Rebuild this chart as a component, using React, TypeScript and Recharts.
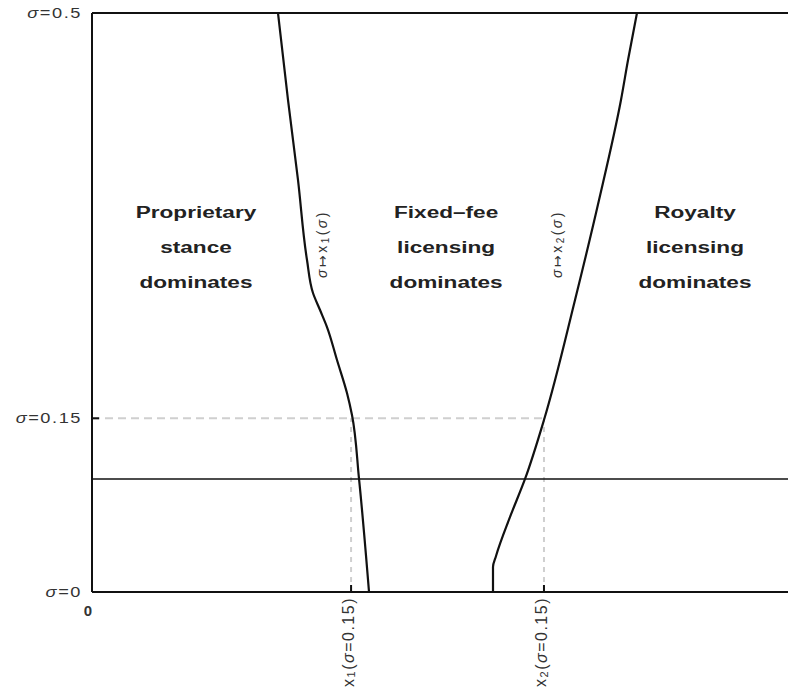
import React from "react";
import { ComposedChart, Line, XAxis, YAxis, ReferenceLine, ReferenceDot } from "recharts";

// threshold curve sigma -> x1(sigma)  (x position, sigma), sigma descending
const curveX1 = [
  { x: 0.2642, s: 0.5 },
  { x: 0.2784, s: 0.4249 },
  { x: 0.2926, s: 0.3558 },
  { x: 0.3054, s: 0.2867 },
  { x: 0.3139, s: 0.2582 },
  { x: 0.3239, s: 0.2435 },
  { x: 0.3338, s: 0.2288 },
  { x: 0.348, s: 0.2003 },
  { x: 0.3622, s: 0.1718 },
  { x: 0.3693, s: 0.1528 },
  { x: 0.3793, s: 0.0976 },
  { x: 0.3935, s: 0 },
];

// threshold curve sigma -> x2(sigma), sigma descending
const curveX2 = [
  { x: 0.7741, s: 0.5 },
  { x: 0.7614, s: 0.4594 },
  { x: 0.7514, s: 0.4249 },
  { x: 0.7202, s: 0.3385 },
  { x: 0.6861, s: 0.2522 },
  { x: 0.642, s: 0.1485 },
  { x: 0.6151, s: 0.0976 },
  { x: 0.5938, s: 0.0648 },
  { x: 0.5739, s: 0.0311 },
  { x: 0.5696, s: 0.0216 },
  { x: 0.5696, s: 0 },
];

const X1_AT = 0.368;
const X2_AT = 0.642;
const SIGMA_MARK = 0.15;
const SIGMA_LINE = 0.0976;
const xTicks = [0, X1_AT, X2_AT];
const yTicks = [0, 0.15, 0.5];
const yTickLabels = ["=0", "=0.15", "=0.5"];

const regionLabels = [
  { x: 0.1477, s: 0.323, lines: ["Proprietary", "stance", "dominates"] },
  { x: 0.503, s: 0.323, lines: ["Fixed–fee", "licensing", "dominates"] },
  { x: 0.8565, s: 0.323, lines: ["Royalty", "licensing", "dominates"] },
];

const curveLabels = [
  { x: 0.3267, s: 0.3005, sub: "1" },
  { x: 0.6605, s: 0.3005, sub: "2" },
];

const FONT = "'Liberation Sans', Arial, 'DejaVu Sans', sans-serif";
const INK = "#111";

const YTick = (props: any) => {
  const { x, y, payload } = props;
  const label = yTickLabels[yTicks.indexOf(payload.value)] ?? "";
  return (
    <g>
      <line x1={x} x2={x + 7} y1={y} y2={y} stroke={INK} strokeWidth={2} />
      <g transform={`translate(${x - 10},${y})`}>
        <text
          transform="scale(1.3,1)"
          textAnchor="end"
          dominantBaseline="central"
          fontFamily={FONT}
          fontSize={14}
          letterSpacing={1.2}
          fill="#333"
        >
          <tspan fontStyle="italic">σ</tspan>
          {label}
        </text>
      </g>
    </g>
  );
};

const XTick = (props: any) => {
  const { x, y, payload } = props;
  const v = payload.value;
  if (v === 0) {
    return (
      <text
        x={x - 4}
        y={y + 18}
        textAnchor="middle"
        dominantBaseline="central"
        fontFamily={FONT}
        fontWeight="bold"
        fontSize={15}
        fill="#333"
      >
        0
      </text>
    );
  }
  const sub = v === X1_AT ? "1" : "2";
  return (
    <g>
      <line x1={x} x2={x} y1={y} y2={y - 7} stroke={INK} strokeWidth={2} />
      <text
        transform={`translate(${x - 3},${y + 5}) rotate(-90)`}
        textAnchor="end"
        dominantBaseline="central"
        fontFamily={FONT}
        fontSize={16}
        letterSpacing={1.5}
        fill="#333"
      >
        x
        <tspan dy={3} fontSize={11}>
          {sub}
        </tspan>
        <tspan dy={-3}>(</tspan>
        <tspan fontStyle="italic">σ</tspan>
        <tspan>=0.15)</tspan>
      </text>
    </g>
  );
};

const RegionText = ({ cx, cy, lines }: any) => (
  <g>
    {lines.map((t: string, i: number) => (
      <g key={i} transform={`translate(${cx},${cy + i * 35})`}>
        <text
          transform="scale(1.33,1)"
          textAnchor="middle"
          fontFamily={FONT}
          fontWeight="bold"
          fontSize={17}
          fill="#222"
        >
          {t}
        </text>
      </g>
    ))}
  </g>
);

const CurveText = ({ cx, cy, sub }: any) => (
  <text
    transform={`translate(${cx},${cy}) rotate(-90)`}
    textAnchor="middle"
    dominantBaseline="central"
    fontFamily={FONT}
    fontSize={14}
    letterSpacing={2.5}
    fill="#333"
  >
    <tspan fontStyle="italic">σ</tspan>
    <tspan>↦x</tspan>
    <tspan dy={3} fontSize={10}>
      {sub}
    </tspan>
    <tspan dy={-3}>(</tspan>
    <tspan fontStyle="italic">σ</tspan>
    <tspan>)</tspan>
  </text>
);

export default function App() {
  return (
    <div style={{ width: 788, height: 693, marginTop: -8, background: "#fff" }}>
      <ComposedChart width={788} height={693} margin={{ top: 13, right: 0, bottom: 6, left: 0 }}>
        <XAxis
          type="number"
          dataKey="x"
          domain={[0, 1]}
          ticks={xTicks}
          interval={0}
          height={95}
          tickSize={0}
          tickMargin={0}
          tickLine={false}
          axisLine={{ stroke: INK, strokeWidth: 2 }}
          tick={<XTick />}
          allowDataOverflow
        />
        <YAxis
          type="number"
          dataKey="s"
          domain={[0, 0.5]}
          ticks={yTicks}
          interval={0}
          width={84}
          tickSize={0}
          tickMargin={0}
          tickLine={false}
          axisLine={{ stroke: INK, strokeWidth: 2 }}
          tick={<YTick />}
          allowDataOverflow
        />
        <ReferenceLine
          segment={[
            { x: 0, y: SIGMA_MARK },
            { x: X2_AT, y: SIGMA_MARK },
          ]}
          stroke="#cfcfcf"
          strokeWidth={2}
          strokeDasharray="8 5"
        />
        <ReferenceLine
          segment={[
            { x: X1_AT, y: 0 },
            { x: X1_AT, y: SIGMA_MARK },
          ]}
          stroke="#cfcfcf"
          strokeWidth={2}
          strokeDasharray="5 5"
        />
        <ReferenceLine
          segment={[
            { x: X2_AT, y: 0 },
            { x: X2_AT, y: SIGMA_MARK },
          ]}
          stroke="#cfcfcf"
          strokeWidth={2}
          strokeDasharray="5 5"
        />
        <ReferenceLine y={SIGMA_LINE} stroke={INK} strokeWidth={1.6} />
        <ReferenceLine y={0.5} stroke={INK} strokeWidth={2} />
        <Line
          data={curveX1}
          dataKey="s"
          type="monotoneY"
          stroke={INK}
          strokeWidth={2.2}
          dot={false}
          activeDot={false}
          isAnimationActive={false}
        />
        <Line
          data={curveX2}
          dataKey="s"
          type="monotoneY"
          stroke={INK}
          strokeWidth={2.2}
          dot={false}
          activeDot={false}
          isAnimationActive={false}
        />
        {regionLabels.map((r, i) => (
          <ReferenceDot
            key={"r" + i}
            x={r.x}
            y={r.s}
            r={0}
            shape={(p: any) => <RegionText cx={p.cx} cy={p.cy} lines={r.lines} />}
          />
        ))}
        {curveLabels.map((c, i) => (
          <ReferenceDot
            key={"c" + i}
            x={c.x}
            y={c.s}
            r={0}
            shape={(p: any) => <CurveText cx={p.cx} cy={p.cy} sub={c.sub} />}
          />
        ))}
      </ComposedChart>
    </div>
  );
}
